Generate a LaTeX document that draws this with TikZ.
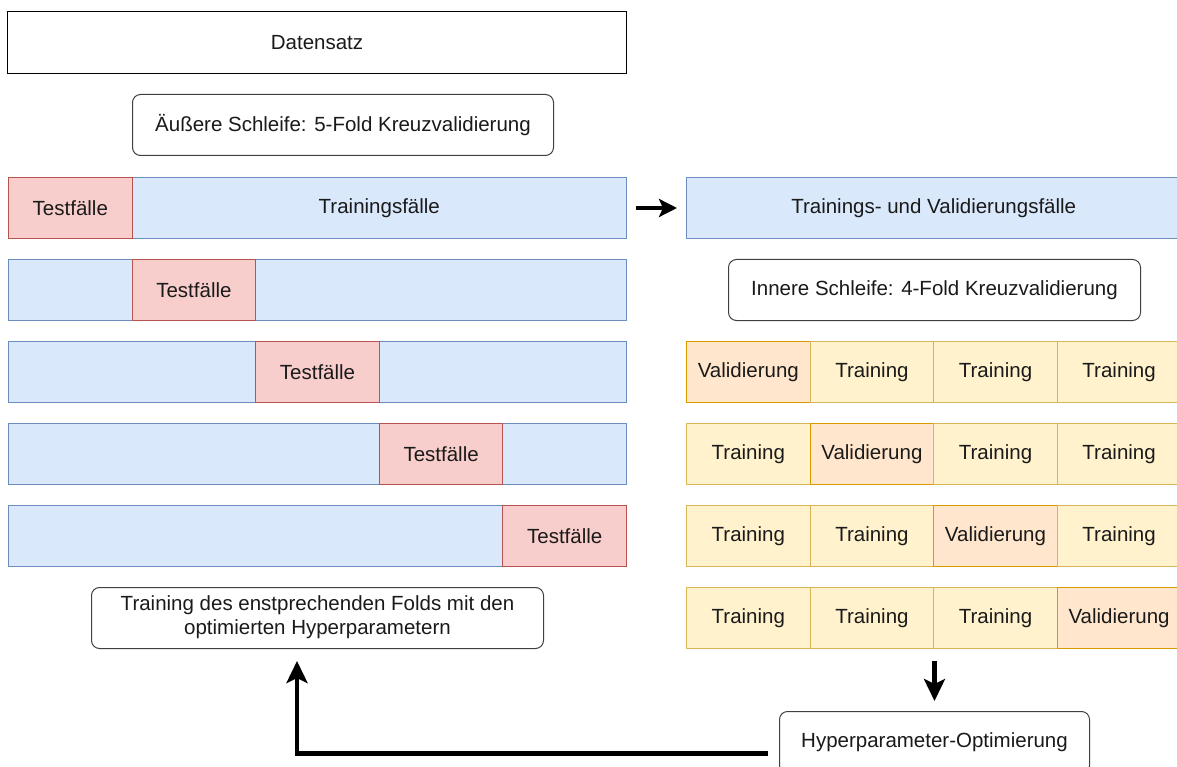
\documentclass[tikz,border=0pt]{standalone}
\usepackage{fontspec}
\setmainfont{Liberation Sans}
\usetikzlibrary{arrows.meta}
\definecolor{trainfill}{HTML}{DAE8FC}
\definecolor{trainline}{HTML}{6C8EBF}
\definecolor{testfill}{HTML}{F8CECC}
\definecolor{testline}{HTML}{B85450}
\definecolor{innerfill}{HTML}{FFF2CC}
\definecolor{innerline}{HTML}{D6B656}
\definecolor{valfill}{HTML}{FFE6CC}
\definecolor{valline}{HTML}{D79B00}
\definecolor{ink}{HTML}{1A1A1A}

\begin{document}
\begin{tikzpicture}[x=1pt,y=-1pt,
  font=\fontsize{20.5}{24}\selectfont, text=ink,
  cell/.style={anchor=north west, minimum height=61pt, inner sep=0pt, line width=1pt},
  trainbox/.style={cell, fill=trainfill, draw=trainline},
  testbox/.style={cell, fill=testfill, draw=testline, minimum width=123.6pt},
  innerbox/.style={cell, fill=innerfill, draw=innerline, minimum width=123.6pt},
  valbox/.style={cell, fill=valfill, draw=valline, minimum width=123.6pt},
  labelbox/.style={cell, fill=white, draw=black!75, rounded corners=8pt},
  flow/.style={line width=4.5pt, draw=black, -{Stealth[length=22pt,width=21pt,inset=5pt]}},
]
\useasboundingbox (0,0) rectangle (1177,767);
\clip (0,0) rectangle (1177,767);

% dataset and outer loop
\node[cell, draw=black, minimum width=619pt, minimum height=62pt] (data) at (7,11) {Datensatz};
\node[labelbox, minimum width=421pt] (outer) at (132,94) {Äußere Schleife: 5-Fold Kreuzvalidierung};

% outer folds
\node[trainbox, minimum width=494.4pt] (f0) at (131.6,177) {Trainingsfälle};
\node[testbox] (t0) at (8,177) {Testfälle};
\foreach \i in {1,...,4}{
  \node[trainbox, minimum width=618pt] (f\i) at (8,{177+82*\i}) {};
  \node[testbox] (t\i) at ({8+123.6*\i},{177+82*\i}) {Testfälle};
}

% inner loop
\node[trainbox, minimum width=494.4pt] (tv) at (686,177) {Trainings- und Validierungsfälle};
\node[labelbox, minimum width=412pt] (innerloop) at (728,259) {Innere Schleife: 4-Fold Kreuzvalidierung};
\foreach \r in {0,...,3}{
  \foreach \c in {0,...,3}{
    \ifnum\r=\c
      \node[valbox] (g\r\c) at ({686+123.6*\c},{341+82*\r}) {Validierung};
    \else
      \node[innerbox] (g\r\c) at ({686+123.6*\c},{341+82*\r}) {Training};
    \fi
  }
}

% results
\node[labelbox, minimum width=452pt, align=center, text depth=6pt] (final) at (91,587)
  {Training des enstprechenden Folds mit den\\optimierten Hyperparametern};
\node[labelbox, minimum width=310pt, minimum height=62pt] (hpo) at (779,711) {Hyperparameter-Optimierung};

% connectors
\draw[flow, -{Stealth[length=18pt,width=18pt,inset=4pt]}, shorten <=9pt, shorten >=9pt]
  (f0.east) -- (tv.west);
\draw[flow, shorten <=12pt, shorten >=10pt] (hpo.north |- g31.south) -- (hpo.north);
\draw[flow, shorten <=11pt, shorten >=12pt]
  ([yshift=-11pt]hpo.west) -| ([xshift=206pt]final.south west);
\end{tikzpicture}
\end{document}
